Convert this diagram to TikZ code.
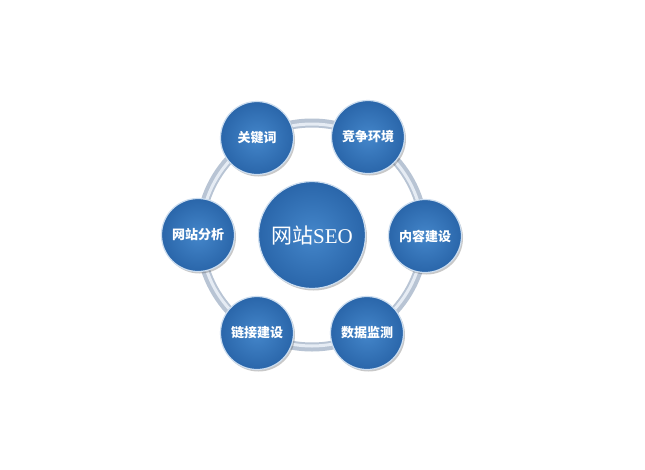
\documentclass[tikz,border=0pt]{standalone}
\usepackage{fontspec}
\newfontfamily\cjk{Noto Sans CJK SC}
\newfontfamily\serifseo{Liberation Serif}
\usetikzlibrary{shadows}
\definecolor{ballin}{RGB}{68,134,202}
\definecolor{ballout}{RGB}{42,102,170}
\definecolor{rim}{RGB}{205,222,240}
\definecolor{ringc}{RGB}{184,196,212}
\definecolor{ringl}{RGB}{230,236,244}
\tikzset{
  ball/.style={circle, minimum size=#1, inner sep=0pt,
    inner color=ballin, outer color=ballout,
    draw=rim, line width=1.2pt, text=white,
    drop shadow={shadow xshift=1.5pt, shadow yshift=-2pt, opacity=0.3, fill=black!70}},
  small/.style={ball=73pt, font=\cjk\bfseries\fontsize{13}{13}\selectfont},
  big/.style={ball=107pt, font=\fontsize{21}{21}\selectfont},
}
\begin{document}
\begin{tikzpicture}[x=1pt,y=-1pt]
\useasboundingbox[fill=white] (0,0) rectangle (645,469);
\coordinate (c) at (312,235);
% ring
\draw[ringc, line width=9pt] (c) circle (112);
\draw[ringl, line width=3pt] (c) circle (111);
% nodes
\node[big] (center) at (c) {{\cjk 网站}{\serifseo SEO}};
\node[small] (kw) at (257,138) {关键词};
\node[small] (jz) at (368,137) {竞争环境};
\node[small] (nr) at (425,236) {内容建设};
\node[small] (sj) at (367,333) {数据监测};
\node[small] (lj) at (257,333) {链接建设};
\node[small] (wz) at (198,235) {网站分析};
\end{tikzpicture}
\end{document}
